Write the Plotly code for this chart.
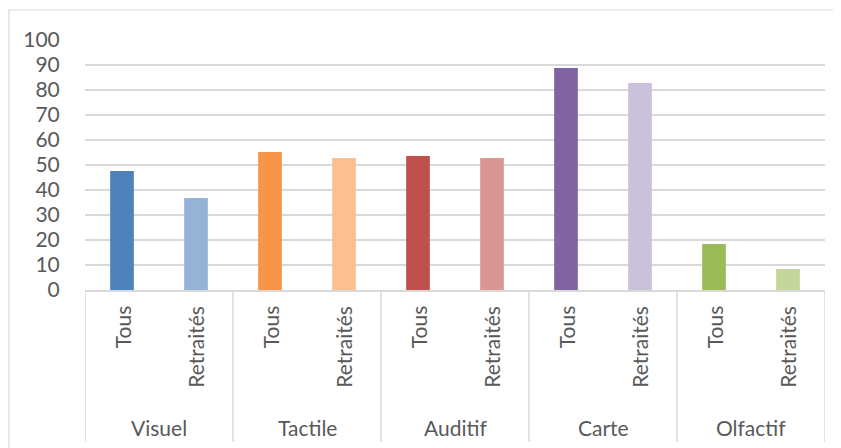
import plotly.graph_objects as go

# ---------------------------------------------------------------------------
# Data
# ---------------------------------------------------------------------------
groups = ["Visuel", "Tactile", "Auditif", "Carte", "Olfactif"]
subgroups = ["Tous", "Retraités"]
values = [47.6, 36.8, 55.2, 52.8, 53.6, 52.8, 88.8, 82.8, 18.4, 8.4]
colors = [
    "#4f81bd", "#95b3d7",
    "#f79646", "#fac090",
    "#c0504d", "#da9694",
    "#8064a2", "#ccc1da",
    "#9bbb59", "#c4d79b",
]

FONT = "Lato, Open Sans, sans-serif"
FS = 21
GREY_TXT = "#595959"
GREY_LINE = "#d9d9d9"

positions = list(range(len(values)))
inner_labels = [s for _ in groups for s in subgroups]

fig = go.Figure(
    go.Bar(
        x=positions,
        y=values,
        width=0.32,
        marker=dict(color=colors, line=dict(width=0)),
        hovertemplate="%{y}<extra></extra>",
    )
)

# inner (rotated) category labels
annotations = []
for pos, lab in zip(positions, inner_labels):
    annotations.append(dict(
        x=pos, y=-0.055, xref="x", yref="paper",
        text=lab, textangle=-90, showarrow=False,
        xanchor="center", yanchor="top",
        font=dict(family=FONT, size=FS, color=GREY_TXT),
    ))

# outer group labels
for i, g in enumerate(groups):
    annotations.append(dict(
        x=2 * i + 0.5, y=-0.548, xref="x", yref="paper",
        text=g, showarrow=False,
        xanchor="center", yanchor="middle",
        font=dict(family=FONT, size=FS, color=GREY_TXT),
    ))

# group dividers + chart frame
shapes = []
for i in range(len(groups) + 1):
    xd = 2 * i - 0.5
    shapes.append(dict(
        type="line", xref="x", yref="paper",
        x0=xd, x1=xd, y0=0, y1=-0.608,
        line=dict(color=GREY_LINE, width=1.5),
    ))
shapes.append(dict(
    type="rect", xref="paper", yref="paper",
    x0=-0.1027, x1=1.0149, y0=-0.7, y1=1.12,
    line=dict(color=GREY_LINE, width=1.2),
))

# page body has an 8px margin, so the figure is offset by (8, 8)
fig.update_layout(
    width=833,
    height=440,
    margin=dict(l=77, r=16, t=32, b=158),
    paper_bgcolor="white",
    plot_bgcolor="white",
    showlegend=False,
    font=dict(family=FONT, color=GREY_TXT),
    xaxis=dict(
        range=[-0.5, len(values) - 0.5],
        showticklabels=False,
        showgrid=False,
        zeroline=False,
        showline=True,
        linecolor=GREY_LINE,
        linewidth=1.5,
        fixedrange=True,
    ),
    yaxis=dict(
        range=[0, 100],
        dtick=10,
        showgrid=True,
        gridcolor=GREY_LINE,
        gridwidth=1.5,
        zeroline=False,
        showline=False,
        ticks="outside",
        ticklen=20,
        tickcolor="rgba(0,0,0,0)",
        tickfont=dict(family=FONT, size=FS, color=GREY_TXT),
        fixedrange=True,
    ),
    annotations=annotations,
    shapes=shapes,
)

fig.write_html("out.html")
